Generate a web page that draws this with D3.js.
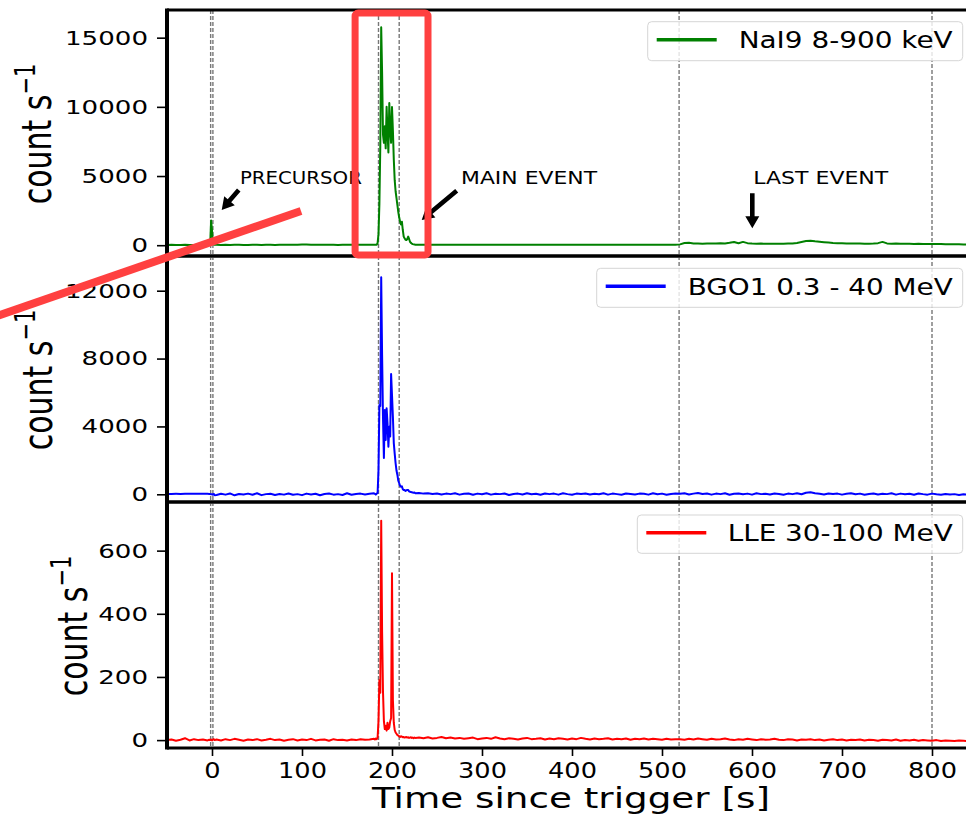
<!DOCTYPE html>
<html>
<head>
<meta charset="utf-8">
<script src="https://cdn.jsdelivr.net/npm/d3@7"></script>
<style>
body { margin: 0; background: #fff; }
text { font-family: "DejaVu Sans", sans-serif; }
</style>
</head>
<body>
<div id="chart"></div>
<script>
// time bins [s] (coarse outside the burst, 1 s inside)
var times = [-50,-45,-40,-35,-30,-25,-20,-15,-10,-5,-3,-2,-1,0,1,2,3,
  5,10,15,20,25,30,35,40,45,50,55,60,65,70,75,80,85,90,95,100,105,110,115,120,125,130,135,140,145,150,155,160,165,170,175,180,
  181,182,183,184,185,186,187,188,189,190,191,192,193,194,195,196,197,198,199,200,
  201,202,203,204,205,206,207,208,209,210,211,212,213,214,215,216,217,218,219,220,221,222,223,224,225,226,
  230,235,240,245,250,255,260,265,270,275,280,285,290,295,300,305,310,315,320,325,
  330,335,340,345,350,355,360,365,370,375,380,385,390,395,400,405,410,415,420,425,
  430,435,440,445,450,455,460,465,470,475,480,485,490,495,500,505,510,515,
  520,525,530,535,540,545,550,555,560,565,570,575,580,585,590,595,600,605,610,615,
  620,625,630,635,640,645,650,655,660,665,670,675,680,685,690,695,700,705,710,715,
  720,725,730,735,740,745,750,755,760,765,770,775,780,785,790,795,800,805,810,815,
  820,825,830,835,840];

// NaI9 8-900 keV, count/s
var nai = [20,25,18,22,30,24,20,26,22,30, 40,80,1780,1100,150,50,30,
  25,20,28,22,26,30,24,20,28,25,22,30,26,24,28,32,26,30,40,55,45,35,30,28,32,26,30,24,28,30,26,32,28,30,34,30,
  30,30,40,150,800,3000,7200,15750,12500,8000,7400,8600,7000,10000,8200,6700,10280,8400,7400,9990,
  8300,6200,4700,3900,3400,2900,2400,2000,1700,1500,1700,1100,620,500,400,380,450,620,450,250,170,120,80,60,50,40,
  35,30,28,32,30,26,30,28,25,30,28,32,30,26,28,30,25,28,30,32,
  30,28,26,30,32,28,30,26,28,30,28,30,32,28,26,30,28,30,32,28,
  30,26,28,30,28,32,30,28,26,30,28,30,32,30,28,26,30,28,
  60,160,170,130,120,110,130,115,120,140,130,170,230,140,240,150,120,110,115,105,
  110,100,105,110,120,130,160,230,300,330,280,250,220,190,160,150,140,130,120,125,
  115,110,110,120,150,240,130,110,120,105,100,110,95,100,90,95,85,80,85,75,
  70,75,65,60,60];

// BGO1 0.3 - 40 MeV, count/s
var bgo = [20,22,25,23,28,30,32,30,28,25, 20,10,0,10,-30,20,-50,
  -40,30,-20,50,-60,20,-10,40,-30,60,-50,10,30,-40,20,-20,50,-30,10,-50,40,-10,30,-60,20,50,-20,10,-40,60,-30,20,40,-10,30,60,
  30,-20,40,80,1430,5260,5200,12790,8210,4500,2140,4970,3200,5070,4200,2800,3980,3400,7090,5850,
  4570,3020,2400,1830,1400,1140,800,650,500,450,470,300,250,250,200,230,260,250,170,150,130,120,100,90,100,60,
  80,40,60,20,50,-10,40,10,60,-20,30,50,-30,40,0,60,-20,30,10,50,
  -40,20,40,-10,60,0,30,-30,50,10,40,-20,60,10,-30,40,20,50,-10,30,
  0,60,-20,40,10,-30,50,20,-10,40,30,-20,60,0,40,-30,20,50,
  30,60,-10,40,80,20,50,-20,40,10,60,-30,30,50,0,40,-20,60,10,30,
  -10,50,20,-30,40,10,60,0,90,120,60,30,-10,50,20,40,-20,30,60,0,
  40,-30,20,50,-10,30,10,60,-20,40,0,30,-30,50,10,-20,40,0,-30,20,
  -10,10,-40,0,-20];

// LLE 30-100 MeV, count/s
var lle = [0,2,-2,1,6,-1,3,0,2,-1, 1,0,2,-1,1,3,0,
  2,-1,3,0,4,1,-2,2,0,3,-1,1,4,0,2,-2,1,3,-1,2,0,4,-1,1,2,-2,3,0,1,-1,2,0,3,1,2,4,
  2,5,3,8,60,190,150,695,343,153,60,35,45,30,55,35,40,60,70,528,
  127,55,32,24,20,16,14,12,10,12,11,9,10,8,9,10,8,9,7,8,9,7,8,6,8,7,
  8,6,9,5,7,10,6,8,5,7,4,6,8,3,5,7,4,9,5,3,
  6,4,2,5,7,3,4,6,2,5,3,6,4,2,5,3,7,4,2,5,
  3,4,6,2,4,3,5,1,4,3,5,2,4,3,1,4,2,3,
  3,1,4,2,5,3,1,4,2,3,5,2,0,3,1,4,2,0,3,1,
  2,4,1,0,3,2,-1,2,1,3,0,2,-1,1,3,0,2,-1,1,0,
  2,-1,1,0,-2,1,0,-1,2,-2,0,-1,1,-2,0,-1,-2,0,-3,-1,
  -2,-3,-1,-2,-3];

var labels = ["NaI9 8-900 keV", "BGO1 0.3 - 40 MeV", "LLE 30-100 MeV"];
var colors = ["#008000", "#0000ff", "#ff0000"];
var yTicks = [[0, 5000, 10000, 15000], [0, 4000, 8000, 12000], [0, 200, 400, 600]];
var yDomains = [[-780, 17000], [-454, 14045], [-25, 754]];
var xTicks = [0, 100, 200, 300, 400, 500, 600, 700, 800];
var markTimes = [-1.5, 1, 185, 208, 519, 800];

// annotations in data coords of the top panel: text start, arrow tail, arrow tip
var notes = [
  {text: "PRECURSOR", x: 31, y: 4430, tail: [29.7, 3996], tip: [10.8, 2550], len: 122},
  {text: "MAIN EVENT", x: 276.7, y: 4430, tail: [271.9, 3945], tip: [233, 1828], len: 136},
  {text: "LAST EVENT", x: 601.4, y: 4430, tail: [600.3, 3757], tip: [600.3, 1228], len: 135}
];

var series = [nai, bgo, lle].map(function(vals) {
  return times.map(function(t, i) { return {t: t, v: vals[i]}; });
});

var W = 966, H = 817;
var left = 167, right = 968;
var tops = [10, 256, 502], ph = 246;
// legend layout: box [x0, y0, x1, y1], text width
var legendBox = [[647.7, 21.7, 962.7, 60.7], [596.7, 268.3, 962.7, 307.3], [637.3, 515, 962.7, 553.3]];
var legendTextW = [214, 265, 225];
var ylabX = [51, 51.5, 87];

var svg = d3.select("#chart").append("svg")
  .attr("width", W).attr("height", H);

var x = d3.scaleLinear().domain([-50, 840]).range([left, right]);

var defs = svg.append("defs");

tops.forEach(function(top, p) {
  var y = d3.scaleLinear().domain(yDomains[p]).range([top + ph, top]);
  var g = svg.append("g");

  defs.append("clipPath").attr("id", "clip" + p)
    .append("rect").attr("x", left).attr("y", top).attr("width", right - left).attr("height", ph);

  var inner = g.append("g").attr("clip-path", "url(#clip" + p + ")");

  // dashed time markers
  inner.selectAll(".mark").data(markTimes).enter().append("line")
    .attr("x1", function(d) { return x(d); }).attr("x2", function(d) { return x(d); })
    .attr("y1", top).attr("y2", top + ph)
    .attr("stroke", "#777").attr("stroke-width", 1.4).attr("stroke-dasharray", "4,2");

  inner.append("path")
    .datum(series[p])
    .attr("fill", "none")
    .attr("stroke", colors[p])
    .attr("stroke-width", 2)
    .attr("stroke-linejoin", "round")
    .attr("d", d3.line()
      .defined(function(d) { return d.v != null; })
      .x(function(d) { return x(d.t); })
      .y(function(d) { return y(d.v); }));

  // y axis
  var ya = g.append("g")
    .attr("transform", "translate(" + left + ",0)")
    .call(d3.axisLeft(y).tickValues(yTicks[p]).tickFormat(d3.format("d")).tickSize(10).tickPadding(9));
  ya.select(".domain").remove();
  ya.selectAll("line").attr("stroke", "#000").attr("stroke-width", 1.6);
  ya.selectAll("text")
    .attr("fill", "#000")
    .style("font-size", "20px")
    .style("font-family", "DejaVu Sans")
    .each(function() {
      d3.select(this).attr("textLength", this.textContent.length * 16.6).attr("lengthAdjust", "spacingAndGlyphs");
    });

  // y label
  var yl = g.append("text")
    .attr("transform", "translate(" + ylabX[p] + "," + (top + ph / 2 + 1) + ") rotate(-90) scale(1,1.35)")
    .attr("text-anchor", "middle")
    .style("font-size", "30px");
  yl.append("tspan").text("count s");
  yl.append("tspan").attr("dy", -12).style("font-size", "21px").text("\u22121");

  // legend
  var b = legendBox[p];
  g.append("rect")
    .attr("x", b[0]).attr("y", b[1]).attr("width", b[2] - b[0]).attr("height", b[3] - b[1])
    .attr("rx", 4).attr("fill", "#fff").attr("fill-opacity", 0.8)
    .attr("stroke", "#d5d5d5").attr("stroke-width", 1);
  var ly = (b[1] + b[3]) / 2 - 1.5;
  g.append("line")
    .attr("x1", b[0] + 9).attr("x2", b[0] + 69).attr("y1", ly).attr("y2", ly)
    .attr("stroke", colors[p]).attr("stroke-width", 3.5);
  g.append("text")
    .attr("x", b[2] - 10 - legendTextW[p]).attr("y", ly + 8.3)
    .attr("textLength", legendTextW[p]).attr("lengthAdjust", "spacingAndGlyphs")
    .style("font-size", "23.7px")
    .text(labels[p]);

  // spines
  g.append("line").attr("x1", left).attr("x2", right).attr("y1", top).attr("y2", top)
    .attr("stroke", "#000").attr("stroke-width", 3);
  g.append("line").attr("x1", left).attr("x2", right).attr("y1", top + ph).attr("y2", top + ph)
    .attr("stroke", "#000").attr("stroke-width", 3);
  g.append("line").attr("x1", left).attr("x2", left).attr("y1", top - 1.5).attr("y2", top + ph + 1.5)
    .attr("stroke", "#000").attr("stroke-width", 4);

  if (p === 0) {
    notes.forEach(function(n) {
      g.append("text")
        .attr("x", x(n.x)).attr("y", y(n.y))
        .attr("textLength", n.len).attr("lengthAdjust", "spacingAndGlyphs")
        .style("font-size", "18px")
        .text(n.text);
      g.append("path").attr("d", arrowPath(x(n.tail[0]), y(n.tail[1]), x(n.tip[0]), y(n.tip[1])))
        .attr("fill", "#000");
    });
  }

  if (p === 2) {
    var xa = g.append("g")
      .attr("transform", "translate(0," + (top + ph) + ")")
      .call(d3.axisBottom(x).tickValues(xTicks).tickFormat(d3.format("d")).tickSize(8).tickPadding(7));
    xa.select(".domain").remove();
    xa.selectAll("line").attr("stroke", "#000").attr("stroke-width", 1.6);
    xa.selectAll("text")
      .attr("fill", "#000")
      .style("font-size", "20.5px")
      .style("font-family", "DejaVu Sans")
      .each(function() {
        d3.select(this).attr("textLength", this.textContent.length * 16.3).attr("lengthAdjust", "spacingAndGlyphs");
      });
  }
});

// x label
svg.append("text")
  .attr("x", 571).attr("y", 808)
  .attr("text-anchor", "middle")
  .attr("textLength", 398).attr("lengthAdjust", "spacingAndGlyphs")
  .style("font-size", "29px")
  .text("Time since trigger [s]");

// red highlight drawn over the figure
svg.append("rect")
  .attr("x", x(159)).attr("y", 13)
  .attr("width", x(240) - x(159)).attr("height", 242)
  .attr("rx", 3)
  .attr("fill", "none").attr("stroke", "#ff4040").attr("stroke-width", 7);
svg.append("line")
  .attr("x1", -5).attr("y1", 316.7).attr("x2", 301).attr("y2", 211)
  .attr("stroke", "#ff4040").attr("stroke-width", 8);

function arrowPath(x1, y1, x2, y2) {
  var dx = x2 - x1, dy = y2 - y1, L = Math.sqrt(dx * dx + dy * dy);
  var ux = dx / L, uy = dy / L, nx = -uy, ny = ux;
  var w = 2.3, hw = 7, hl = 12;
  var cx = x2 - ux * hl, cy = y2 - uy * hl;
  var pts = [
    [x1 + nx * w, y1 + ny * w], [cx + nx * w, cy + ny * w], [cx + nx * hw, cy + ny * hw],
    [x2, y2],
    [cx - nx * hw, cy - ny * hw], [cx - nx * w, cy - ny * w], [x1 - nx * w, y1 - ny * w]
  ];
  return "M" + pts.map(function(q) { return q[0].toFixed(1) + "," + q[1].toFixed(1); }).join("L") + "Z";
}
</script>
</body>
</html>
